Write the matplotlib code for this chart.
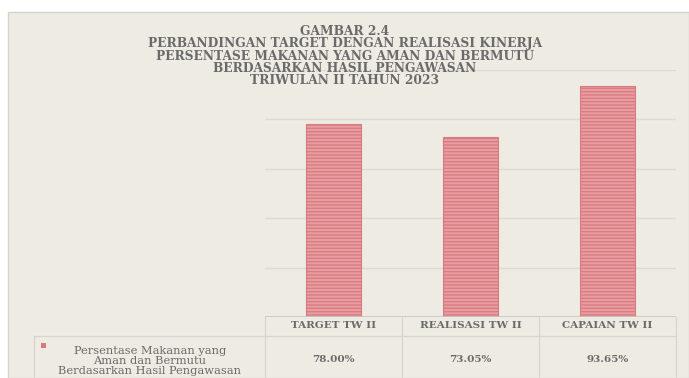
import matplotlib
matplotlib.use("Agg")
import matplotlib.pyplot as plt
from matplotlib.patches import Rectangle
from matplotlib.lines import Line2D

categories = ["TARGET TW II", "REALISASI TW II", "CAPAIAN TW II"]
values = [78.00, 73.05, 93.65]
value_labels = ["78.00%", "73.05%", "93.65%"]
series_name = "Persentase Makanan yang\nAman dan Bermutu\nBerdasarkan Hasil Pengawasan"
title = ("GAMBAR 2.4\nPERBANDINGAN TARGET DENGAN REALISASI KINERJA\n"
         "PERSENTASE MAKANAN YANG AMAN DAN BERMUTU\n"
         "BERDASARKAN HASIL PENGAWASAN\nTRIWULAN II TAHUN 2023")
yticks = [0, 20, 40, 60, 80, 100]

W, H = 689, 378
BG = "#EEEBE3"
TXT = "#6A6A6A"
plt.rcParams['hatch.linewidth'] = 0.9

fig = plt.figure(figsize=(W / 100, H / 100), dpi=100)
fig.patch.set_facecolor("white")

def fx(px):
    return px / W

def fy(py):
    return 1 - py / H

# chart area background
fig.patches.append(Rectangle((fx(8), 0), 1 - fx(8), fy(12), transform=fig.transFigure,
                             facecolor=BG, edgecolor="#D6D3CC", linewidth=1.0, zorder=-5))

ax_l, ax_r, ax_t, ax_b = 265, 676, 70, 317
ax = fig.add_axes([fx(ax_l), fy(ax_b), fx(ax_r - ax_l), fy(ax_t) - fy(ax_b)])
ax.set_zorder(2)
ax.set_facecolor("none")
x = list(range(len(categories)))
ax.bar(x, values, width=0.4, color="#EA9CA0", edgecolor="#D47C81", hatch="-----",
       linewidth=0.8, zorder=3)
ax.set_xlim(-0.5, len(categories) - 0.5)
ax.set_ylim(0, 100)
ax.set_yticks(yticks)
ax.set_yticklabels([])
ax.tick_params(axis="both", length=0)
ax.set_xticks([])
ax.grid(axis="y", color="#DCDAD3", linewidth=1.0, zorder=0)
ax.set_axisbelow(True)
for s in ax.spines.values():
    s.set_visible(False)
ax.axhline(0, color="#C8C6C0", linewidth=1.2, zorder=4)

# title
t = fig.text(fx(345), fy(25), title, ha="center", va="top", fontsize=8.8,
             family="DejaVu Serif", fontweight="bold", color=TXT, linespacing=0.93)
t.set_zorder(5)

# data table
col_w = (ax_r - ax_l) / len(categories)
line_kw = dict(transform=fig.transFigure, color="#D6D4CD", linewidth=0.9, zorder=1)
for i in range(len(categories) + 1):
    xx = ax_l + i * col_w
    fig.add_artist(Line2D([fx(xx), fx(xx)], [fy(ax_b), 0], **line_kw))
fig.add_artist(Line2D([fx(ax_l), fx(ax_r)], [fy(336), fy(336)], **line_kw))
fig.add_artist(Line2D([fx(34), fx(34)], [fy(336), 0], **line_kw))
fig.add_artist(Line2D([fx(34), fx(ax_l)], [fy(336), fy(336)], **line_kw))
for i, (c, v) in enumerate(zip(categories, value_labels)):
    cx = ax_l + (i + 0.5) * col_w
    fig.text(fx(cx), fy(326), c, ha="center", va="center", fontsize=7.5,
             family="DejaVu Serif", fontweight="bold", color=TXT)
    fig.text(fx(cx), fy(360), v, ha="center", va="center", fontsize=7.5,
             family="DejaVu Serif", fontweight="bold", color=TXT)

# legend key
fig.patches.append(Rectangle((fx(41), fy(348)), fx(5), fy(343) - fy(348),
                             transform=fig.transFigure, facecolor="#D9787D",
                             edgecolor="none", zorder=1))
fig.text(fx(150), fy(361), series_name, ha="center", va="center", fontsize=8.2,
         family="DejaVu Serif", color=TXT, linespacing=1.0)

fig.savefig("out.png", dpi=100, facecolor=fig.get_facecolor())
